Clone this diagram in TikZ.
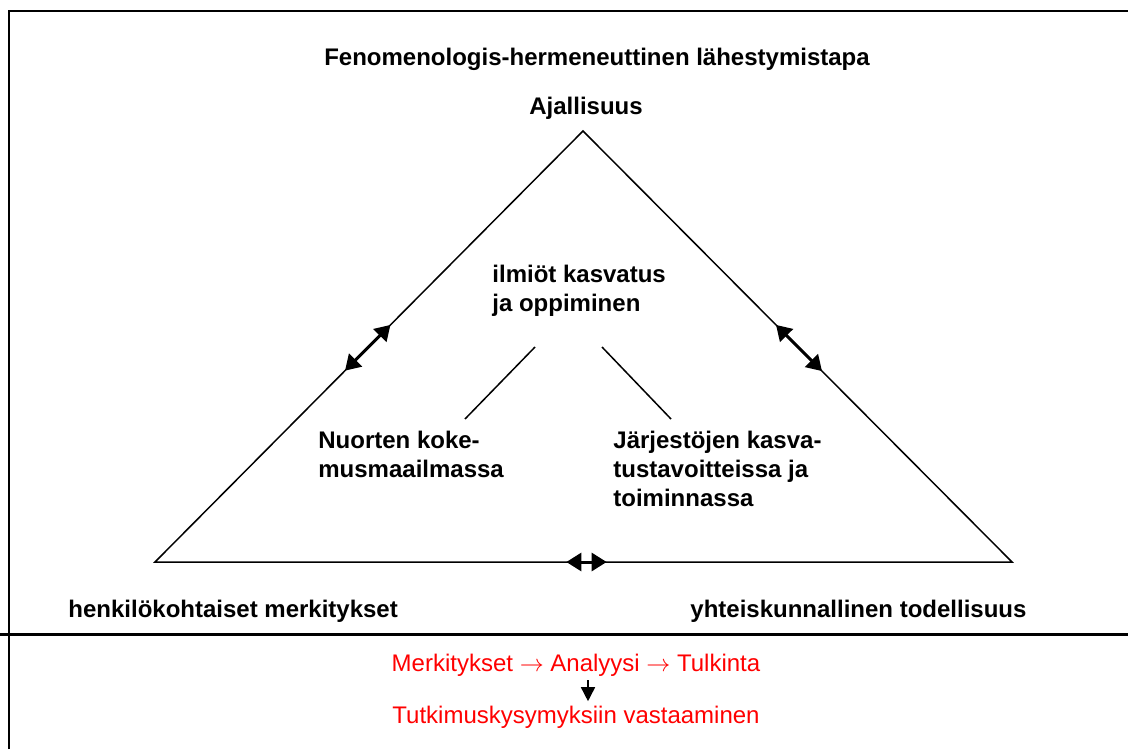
\documentclass[tikz,border=0pt]{standalone}
\usepackage{fontspec}
\setmainfont{Liberation Sans}
\usetikzlibrary{arrows.meta,calc}

\tikzset{
  lbl/.style={font=\fontsize{12}{14.5}\selectfont\bfseries, inner sep=0pt, align=left},
  redlbl/.style={font=\fontsize{12}{14.5}\selectfont, text=red, inner sep=2pt},
  side/.style={line width=0.75pt},
  dbl/.style={{Triangle[length=7.5pt,width=9pt]}-{Triangle[length=7.5pt,width=9pt]}, line width=1.5pt},
}

\begin{document}
\begin{tikzpicture}[x=0.5pt,y=-0.5pt]
    \useasboundingbox (0,0) rectangle (1128,749);
    \draw[line width=1.2pt] (9,749) -- (9,11) -- (1128,11);
    \draw[line width=1.5pt] (0,634) -- (1128,634);

    \coordinate (apex) at (583,131);
    \coordinate (bl) at (155,562);
    \coordinate (br) at (1012,562);
    \coordinate (la) at (535,347);
    \coordinate (lb) at (465,419);
    \coordinate (ra) at (602,347);
    \coordinate (rb) at (671,419);

    \node[lbl, anchor=base] (title) at (597,66) {Fenomenologis-hermeneuttinen lähestymistapa};
    \node[lbl, anchor=base] (aika) at (586,114) {Ajallisuus};
    \node[lbl, anchor=north west] (ilmiot) at (492,265) {ilmiöt kasvatus\\ja oppiminen};
    \node[lbl, anchor=north west] (nuoret) at (318,431) {Nuorten koke-\\musmaailmassa};
    \node[lbl, anchor=north west] (jarjesto) at (613,431) {Järjestöjen kasva-\\tustavoitteissa ja\\toiminnassa};
    \node[lbl, anchor=base west] (henk) at (68,617) {henkilökohtaiset merkitykset};
    \node[lbl, anchor=base west] (yht) at (690,617) {yhteiskunnallinen todellisuus};
    \node[redlbl, anchor=base] (merk) at (576,671) {Merkitykset $\rightarrow$ Analyysi $\rightarrow$ Tulkinta};
    \node[redlbl, anchor=base] (vast) at (576,723) {Tutkimuskysymyksiin vastaaminen};

    \draw[side] (apex) -- (bl) -- (br) -- cycle;
    \draw[side] (la) -- (lb);
    \draw[side] (ra) -- (rb);
    \foreach \a/\b/\s/\e in {apex/bl/0.45/0.556, apex/br/0.45/0.557, bl/br/0.48/0.527} {
      \draw[dbl] ($(\a)!\s!(\b)$) -- ($(\a)!\e!(\b)$);
    }
    \draw[line width=0.75pt, -{Triangle[length=7pt,width=7pt]}] ([xshift=6pt]merk.south) -- ([xshift=6pt]vast.north);
\end{tikzpicture}
\end{document}
